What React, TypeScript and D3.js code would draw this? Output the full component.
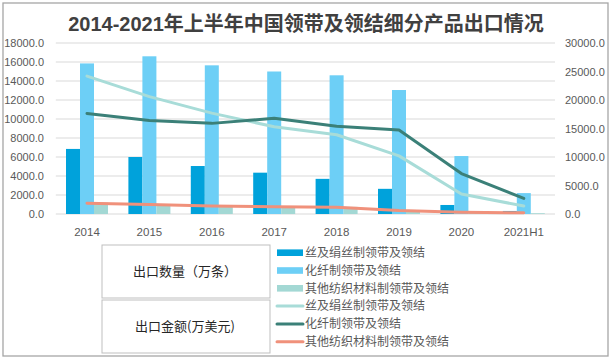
import React, { useEffect, useRef } from 'react';
import * as d3 from 'd3';

// categories (years)
const categories = ['2014', '2015', '2016', '2017', '2018', '2019', '2020', '2021H1'];

// export quantity (万条), left axis
const silkQty = [6850, 6000, 5050, 4350, 3700, 2650, 950, 320];
const fiberQty = [15850, 16600, 15650, 15000, 14600, 13050, 6100, 2200];
const otherQty = [1200, 1000, 850, 750, 750, 380, 150, 80];

// export amount (万美元), right axis
const silkAmt = [24200, 20600, 17700, 15300, 13900, 10200, 3500, 1400];
const fiberAmt = [17650, 16400, 15900, 16800, 15400, 14750, 7100, 2750];
const otherAmt = [1870, 1650, 1400, 1280, 1180, 600, 300, 200];

const seriesNames = ['丝及绢丝制领带及领结', '化纤制领带及领结', '其他纺织材料制领带及领结'];
const leftTicks = [0, 2000, 4000, 6000, 8000, 10000, 12000, 14000, 16000, 18000];
const rightTicks = [0, 5000, 10000, 15000, 20000, 25000, 30000];

const barColors = ['#00a2db', '#6dcff6', '#a3d8d4'];
const lineColors = ['#a8dcd8', '#3b8078', '#f0917b'];

const App = () => {
    const svgRef = useRef<SVGSVGElement>(null);

    useEffect(() => {
        const svg = d3.select(svgRef.current);
        svg.selectAll('*').remove();

        const width = 613;
        const height = 361;
        const plot = { left: 55.8, right: 555, top: 43, bottom: 214 };
        const numFont = '"Liberation Sans", Arial, sans-serif';
        const cjkFont = '"Noto Sans CJK SC", sans-serif';

        svg.attr('width', width).attr('height', height);

        // outer frame
        svg.append('rect')
            .attr('x', 3).attr('y', 3)
            .attr('width', 605).attr('height', 353)
            .attr('fill', '#fff')
            .attr('stroke', '#a6a6a6')
            .attr('stroke-width', 1.3);

        // title
        svg.append('text')
            .attr('x', 306).attr('y', 31)
            .attr('text-anchor', 'middle')
            .attr('font-family', `"Liberation Sans", ${cjkFont}`)
            .attr('font-weight', 'bold')
            .attr('font-size', 20)
            .attr('fill', '#404040')
            .text('2014-2021年上半年中国领带及领结细分产品出口情况');

        // scales
        const x0 = d3.scaleBand().domain(categories).range([plot.left, plot.right]).padding(0);
        const groupW = 42;
        const x1 = d3.scaleBand().domain(['0', '1', '2']).range([0, groupW]).padding(0);
        const yL = d3.scaleLinear().domain([0, 18000]).range([plot.bottom, plot.top]);
        const yR = d3.scaleLinear().domain([0, 30000]).range([plot.bottom, plot.top]);

        // gridlines
        svg.append('g')
            .selectAll('line')
            .data(leftTicks)
            .enter()
            .append('line')
            .attr('x1', plot.left).attr('x2', plot.right)
            .attr('y1', (d) => yL(d)).attr('y2', (d) => yL(d))
            .attr('stroke', '#d9d9d9')
            .attr('stroke-width', 1);

        // left tick labels
        svg.append('g')
            .selectAll('text')
            .data(leftTicks)
            .enter()
            .append('text')
            .attr('x', 44)
            .attr('y', (d) => yL(d) + 4)
            .attr('text-anchor', 'end')
            .attr('font-family', numFont)
            .attr('font-size', 11)
            .attr('fill', '#595959')
            .text((d) => d.toFixed(1));

        // right tick labels
        svg.append('g')
            .selectAll('text')
            .data(rightTicks)
            .enter()
            .append('text')
            .attr('x', 565)
            .attr('y', (d) => yR(d) + 4)
            .attr('text-anchor', 'start')
            .attr('font-family', numFont)
            .attr('font-size', 11)
            .attr('fill', '#595959')
            .text((d) => d.toFixed(1));

        // category labels
        svg.append('g')
            .selectAll('text')
            .data(categories)
            .enter()
            .append('text')
            .attr('x', (d) => x0(d)! + x0.bandwidth() / 2)
            .attr('y', 236)
            .attr('text-anchor', 'middle')
            .attr('font-family', numFont)
            .attr('font-size', 11.5)
            .attr('fill', '#595959')
            .text((d) => d);

        // bars
        const qtySeries = [silkQty, fiberQty, otherQty];
        const offset = (x0.bandwidth() - groupW) / 2;
        qtySeries.forEach((vals, si) => {
            svg.append('g')
                .selectAll('rect')
                .data(vals)
                .enter()
                .append('rect')
                .attr('x', (d, i) => x0(categories[i])! + offset + x1(String(si))!)
                .attr('y', (d) => yL(d))
                .attr('width', x1.bandwidth())
                .attr('height', (d) => plot.bottom - yL(d))
                .attr('fill', barColors[si]);
        });

        // lines
        const amtSeries = [silkAmt, fiberAmt, otherAmt];
        const line = d3.line<number>()
            .x((d, i) => x0(categories[i])! + x0.bandwidth() / 2)
            .y((d) => yR(d));
        amtSeries.forEach((vals, si) => {
            svg.append('path')
                .datum(vals)
                .attr('d', line)
                .attr('fill', 'none')
                .attr('stroke', lineColors[si])
                .attr('stroke-width', 3)
                .attr('stroke-linejoin', 'round')
                .attr('stroke-linecap', 'round');
        });

        // legend table
        const boxes = [
            { y: 245, label: '出口数量（万条）' },
            { y: 300, label: '出口金额(万美元)' },
        ];
        boxes.forEach((b) => {
            svg.append('rect')
                .attr('x', 102).attr('y', b.y)
                .attr('width', 168).attr('height', 53)
                .attr('fill', 'none')
                .attr('stroke', '#bfbfbf')
                .attr('stroke-width', 1);
            svg.append('text')
                .attr('x', 185).attr('y', b.y + 31)
                .attr('text-anchor', 'middle')
                .attr('font-family', cjkFont)
                .attr('font-size', 13)
                .attr('fill', '#262626')
                .text(b.label);
        });

        // legend entries
        const rowY = d3.range(6).map((i) => 252.7 + i * 17.8);
        const legend = svg.append('g');
        seriesNames.forEach((name, i) => {
            legend.append('rect')
                .attr('x', 277).attr('y', rowY[i] - 3.3)
                .attr('width', 26).attr('height', 6.6)
                .attr('fill', barColors[i]);
            legend.append('text')
                .attr('x', 305).attr('y', rowY[i] + 4.3)
                .attr('font-family', cjkFont)
                .attr('font-size', 12)
                .attr('fill', '#595959')
                .text(name);
        });
        seriesNames.forEach((name, i) => {
            const yy = rowY[i + 3];
            legend.append('line')
                .attr('x1', 277).attr('x2', 303)
                .attr('y1', yy).attr('y2', yy)
                .attr('stroke', lineColors[i])
                .attr('stroke-width', 3)
                .attr('stroke-linecap', 'round');
            legend.append('text')
                .attr('x', 305).attr('y', yy + 4.3)
                .attr('font-family', cjkFont)
                .attr('font-size', 12)
                .attr('fill', '#595959')
                .text(name);
        });
    }, []);

    return <svg ref={svgRef} style={{ position: 'absolute', left: 0, top: 0 }}></svg>;
};

export default App;
